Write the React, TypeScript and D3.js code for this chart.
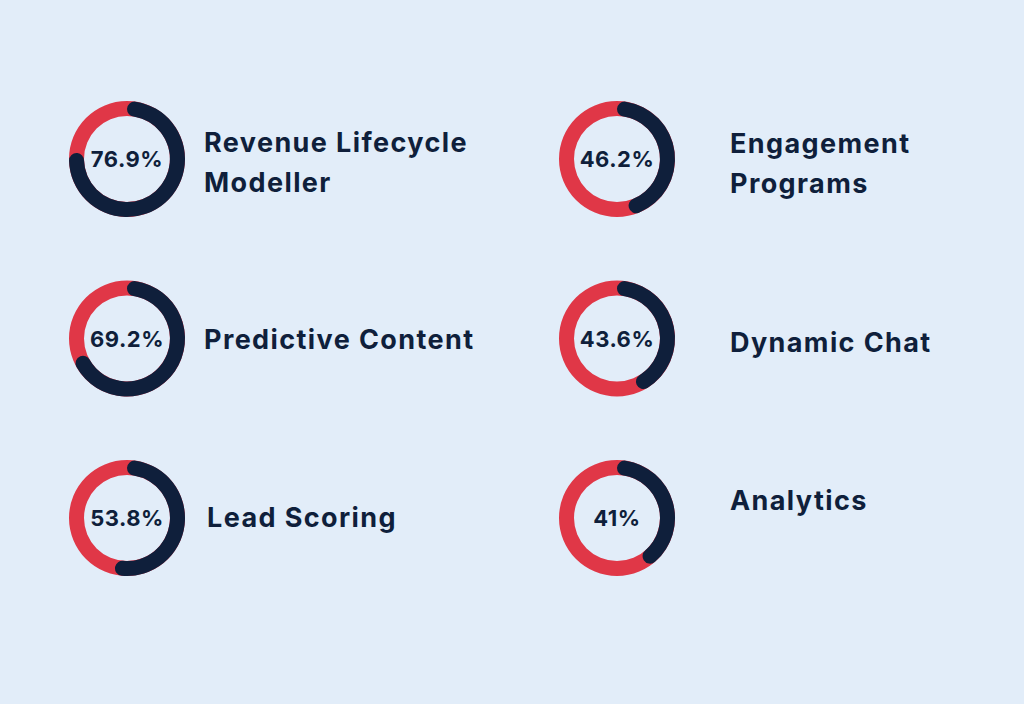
import React, { useRef, useEffect } from 'react';
import * as d3 from 'd3';

// Chart data
const labels: string[][] = [
	["Revenue Lifecycle", "Modeller"],
	["Engagement", "Programs"],
	["Predictive Content"],
	["Dynamic Chat"],
	["Lead Scoring"],
	["Analytics"],
];
const values: number[] = [76.9, 46.2, 69.2, 43.6, 53.8, 41];
const valueLabels: string[] = ["76.9%", "46.2%", "69.2%", "43.6%", "53.8%", "41%"];

// Layout tweaks for the label blocks (baseline of first line, relative to ring centre)
const labelDy: number[] = [-7, -6, 10, 13, 9, -8];
const labelDx: number[] = [0, 0, 0, 0, 3, 0];

const App: React.FC = () => {
	const svgRef = useRef<SVGSVGElement | null>(null);

	useEffect(() => {
		if (!svgRef.current) return;

		const width = 1024;
		const height = 704;
		const outer = 58;
		const thickness = 15;

		const navy = "#0f1f3b";
		const red = "#e03747";

		const svg = d3.select(svgRef.current)
			.attr("width", width)
			.attr("height", height);

		svg.append("rect")
			.attr("width", width)
			.attr("height", height)
			.attr("fill", "#e2edf9");

		// Two columns, three rows
		const x = d3.scalePoint<number>().domain([0, 1]).range([127, 617]);
		const y = d3.scalePoint<number>().domain([0, 1, 2]).range([159, 518]);
		const labelX = d3.scalePoint<number>().domain([0, 1]).range([204, 730]);

		const angle = d3.scaleLinear().domain([0, 100]).range([0, 2 * Math.PI]);

		const ring = d3.arc<any>()
			.innerRadius(outer - thickness)
			.outerRadius(outer)
			.startAngle(0)
			.endAngle(2 * Math.PI);

		const valueArc = d3.arc<any>()
			.innerRadius(outer - thickness)
			.outerRadius(outer)
			.cornerRadius(thickness / 2)
			.startAngle(0)
			.endAngle((d: number) => angle(d));

		const items = values.map((v, i) => ({ v, i, col: i % 2, row: Math.floor(i / 2) }));

		const g = svg.append("g")
			.selectAll("g")
			.data(items)
			.join("g")
			.attr("transform", d => `translate(${x(d.col)},${y(d.row)})`);

		g.append("path")
			.attr("d", () => ring(null) as string)
			.attr("fill", red);

		g.append("path")
			.attr("d", d => valueArc(d.v) as string)
			.attr("fill", navy);

		g.append("text")
			.attr("text-anchor", "middle")
			.attr("y", 8)
			.attr("fill", navy)
			.style("font-family", "Inter, sans-serif")
			.style("font-weight", 700)
			.style("font-size", "22px")
			.style("letter-spacing", "0.5px")
			.text(d => valueLabels[d.i]);

		const text = svg.append("g")
			.selectAll("text")
			.data(items)
			.join("text")
			.attr("x", d => labelX(d.col)! + labelDx[d.i])
			.attr("y", d => y(d.row)! + labelDy[d.i])
			.attr("fill", navy)
			.style("font-family", "Inter, sans-serif")
			.style("font-weight", 700)
			.style("font-size", "27px")
			.style("letter-spacing", "1.4px");

		text.selectAll("tspan")
			.data(d => labels[d.i].map((t, k) => ({ t, k, x: labelX(d.col)! + labelDx[d.i] })))
			.join("tspan")
			.attr("x", d => d.x)
			.attr("dy", d => (d.k === 0 ? 0 : 40))
			.text(d => d.t);

		return () => {
			svg.selectAll("*").remove();
		};
	}, []);

	return (
		<svg ref={svgRef} style={{ position: 'absolute', left: 0, top: 0, display: 'block' }} />
	);
};

export default App;
